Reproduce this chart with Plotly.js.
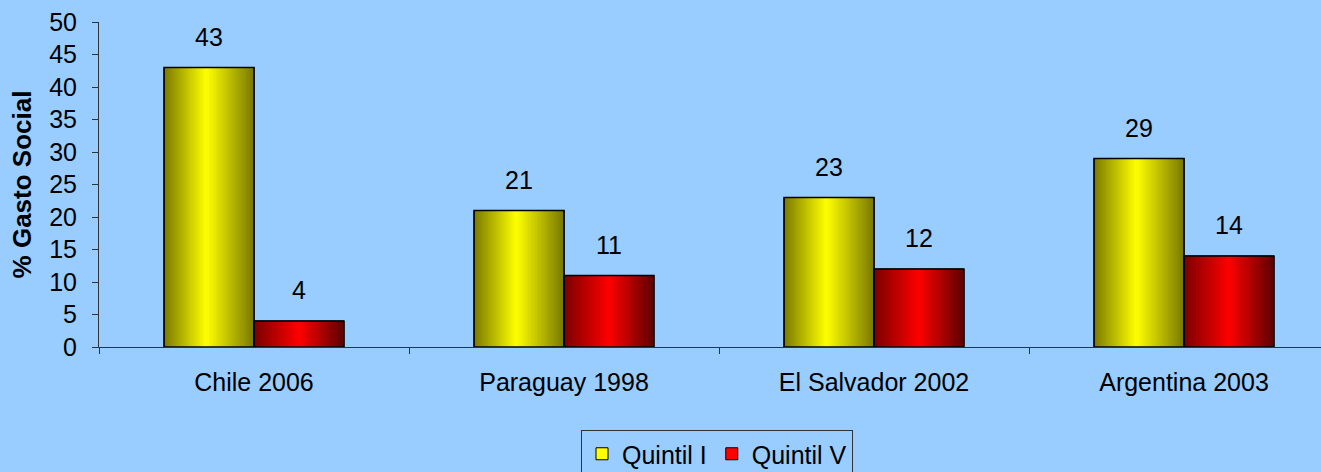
<!DOCTYPE html>
<html>
<head>
<meta charset="utf-8">
<script src="https://cdn.plot.ly/plotly-3.0.1.min.js"></script>
<style>
  html, body { margin: 0; padding: 0; background: #99CCFF; }
  #chart { width: 1321px; height: 472px; }
</style>
</head>
<body>
<div id="chart"></div>
<script>
// ---- data ----
const categories = ['Chile 2006', 'Paraguay 1998', 'El Salvador 2002', 'Argentina 2003'];
const quintilI = [43, 21, 23, 29];
const quintilV = [4, 11, 12, 14];
const seriesNames = ['Quintil I', 'Quintil V'];
const yTicks = [0, 5, 10, 15, 20, 25, 30, 35, 40, 45, 50];

// ---- styling ----
const FONT = 'Arial, "Liberation Sans", sans-serif';
const BG = '#99CCFF';
const BAR_W = 0.29;
const STRIPS = 40;

function shade(base, t, peak, lo, hi) {
  let f;
  if (t < peak) f = lo + (1 - lo) * (t / peak);
  else f = 1 - (1 - hi) * ((t - peak) / (1 - peak));
  return 'rgb(' + Math.round(base[0] * f) + ',' + Math.round(base[1] * f) + ',' + Math.round(base[2] * f) + ')';
}

const series = [
  { name: seriesNames[0], values: quintilI, offset: -BAR_W, base: [255, 255, 0], solid: '#FFFF00', peak: 0.47, lo: 0.48, hi: 0.47, xshift: -45 },
  { name: seriesNames[1], values: quintilV, offset: 0, base: [255, 0, 0], solid: '#FF0000', peak: 0.5, lo: 0.48, hi: 0.36, xshift: 45 }
];

const traces = [];
series.forEach(s => {
  // base bar (legend entry)
  traces.push({
    type: 'bar', x: categories, y: s.values, name: s.name,
    width: BAR_W, offset: s.offset,
    marker: { color: s.solid, line: { color: '#000', width: 1 } },
    hoverinfo: 'y', showlegend: true
  });
});
series.forEach(s => {
  // gradient strips: each strip runs from its start to the bar's right edge,
  // later strips paint over earlier ones (no seams)
  const sw = BAR_W / STRIPS;
  for (let i = 0; i < STRIPS; i++) {
    const t = (i + 0.5) / STRIPS;
    traces.push({
      type: 'bar', x: categories, y: s.values,
      width: BAR_W - i * sw, offset: s.offset + i * sw,
      marker: { color: shade(s.base, t, s.peak, s.lo, s.hi), line: { width: 0 } },
      hoverinfo: 'skip', showlegend: false
    });
  }
});
series.forEach(s => {
  // outline
  traces.push({
    type: 'bar', x: categories, y: s.values,
    width: BAR_W, offset: s.offset,
    marker: { color: 'rgba(0,0,0,0)', line: { color: '#000', width: 1.6 } },
    hoverinfo: 'skip', showlegend: false
  });
});

const annotations = [];
series.forEach(s => {
  s.values.forEach((v, i) => {
    annotations.push({
      x: categories[i], y: v, xref: 'x', yref: 'y',
      xshift: s.xshift, yshift: 15, yanchor: 'bottom',
      text: String(v), showarrow: false,
      font: { family: FONT, size: 25, color: '#000' }
    });
  });
});

const layout = {
  width: 1321, height: 472,
  paper_bgcolor: BG, plot_bgcolor: BG,
  margin: { l: 99, r: 0, t: 22, b: 125 },
  barmode: 'overlay',
  font: { family: FONT, size: 25, color: '#000' },
  xaxis: {
    type: 'category',
    range: [-0.5, -0.5 + 1222 / 310],
    tickson: 'boundaries',
    ticks: 'outside', ticklen: 6, tickcolor: '#333',
    showline: true, linecolor: '#333', linewidth: 1,
    showgrid: false, zeroline: false,
    ticklabelstandoff: 13,
    tickfont: { family: FONT, size: 25, color: '#000' }
  },
  yaxis: {
    range: [0, 50],
    tickvals: yTicks,
    ticks: 'outside', ticklen: 6, tickcolor: '#333',
    showline: true, linecolor: '#333', linewidth: 1,
    showgrid: false, zeroline: false,
    ticklabelstandoff: 10,
    tickfont: { family: FONT, size: 25, color: '#000' },
    title: { text: '% Gasto Social', standoff: 10, font: { family: FONT, size: 26, color: '#000', weight: 'bold' } }
  },
  legend: {
    orientation: 'h',
    xref: 'container', yref: 'container',
    x: 717 / 1321, xanchor: 'center',
    y: 1 - 430 / 472, yanchor: 'top',
    bgcolor: BG, bordercolor: '#333', borderwidth: 1,
    font: { family: FONT, size: 25, color: '#000' },
    itemwidth: 30, tracegroupgap: 0
  },
  annotations: annotations,
  showlegend: true
};

Plotly.newPlot('chart', traces, layout, { displayModeBar: false, staticPlot: true });
</script>
</body>
</html>
